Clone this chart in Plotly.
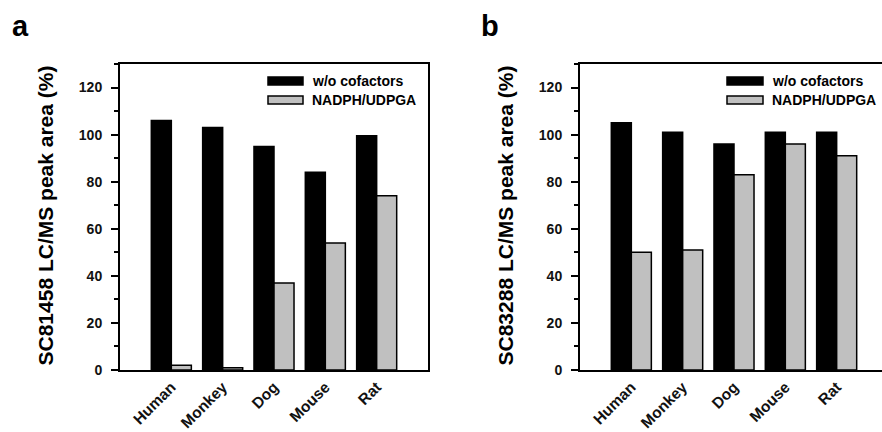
import plotly.graph_objects as go

W, H = 882, 432

species = ["Human", "Monkey", "Dog", "Mouse", "Rat"]
a_wo = [106, 103, 95, 84, 99.5]
a_nadph = [2, 1, 37, 54, 74]
b_wo = [105, 101, 96, 101, 101]
b_nadph = [50, 51, 83, 96, 91]
series_names = ["w/o cofactors", "NADPH/UDPGA"]
ytitles = ["SC81458 LC/MS peak area (%)", "SC83288 LC/MS peak area (%)"]
panel_labels = ["a", "b"]
yticks = [0, 20, 40, 60, 80, 100, 120]

BLACK = "#000000"
GRAY = "#c0c0c0"
FONT = "Liberation Sans"


def px(x):
    return x / W


def py(y):
    return 1 - y / H


fig = go.Figure()

for i, (wo, nad) in enumerate([(a_wo, a_nadph), (b_wo, b_nadph)]):
    xa = "x" if i == 0 else "x2"
    ya = "y" if i == 0 else "y2"
    fig.add_trace(go.Bar(x=species, y=wo, name=series_names[0], xaxis=xa, yaxis=ya,
                         marker=dict(color=BLACK, line=dict(color=BLACK, width=1.5)),
                         showlegend=False))
    fig.add_trace(go.Bar(x=species, y=nad, name=series_names[1], xaxis=xa, yaxis=ya,
                         marker=dict(color=GRAY, line=dict(color=BLACK, width=1.5)),
                         showlegend=False))

ytickfont = dict(family=FONT, size=14, color="#111111", weight="bold")
xtickfont = dict(family=FONT, size=15.5, color="#111111", weight="bold")

xcommon = dict(type="category", showline=True, linecolor=BLACK, linewidth=2,
               ticks="", showgrid=False, zeroline=False, tickangle=-45,
               tickfont=xtickfont, fixedrange=True, automargin=False)
ycommon = dict(range=[0, 130], tickvals=yticks, showline=True, linecolor=BLACK,
               linewidth=2, ticks="outside", ticklen=7, tickwidth=2, tickcolor=BLACK,
               minor=dict(ticks="outside", ticklen=4, tickwidth=1.5, dtick=10,
                          tick0=0, tickcolor=BLACK, showgrid=False),
               showgrid=False, zeroline=False, tickfont=ytickfont,
               ticklabelstandoff=6, automargin=False, fixedrange=True)

y_dom = [py(370), py(64)]
fig.update_layout(
    width=W, height=H,
    margin=dict(l=0, r=0, t=0, b=0),
    paper_bgcolor="white", plot_bgcolor="white",
    barmode="group", bargap=0.22, bargroupgap=0,
    xaxis=dict(domain=[px(120), px(428)], range=[-1, 5], anchor="y",
               mirror=True, **xcommon),
    yaxis=dict(domain=y_dom, anchor="x", mirror=True, **ycommon),
    xaxis2=dict(domain=[px(580), 1.0], range=[-1, -1 + 6 * (882 - 580) / 308],
                anchor="y2", mirror=True, **xcommon),
    yaxis2=dict(domain=y_dom, anchor="x2", mirror=False, **ycommon),
    showlegend=False,
)

# y-axis titles
for xc, t in zip([45, 505], ytitles):
    fig.add_annotation(text=t, x=px(xc), y=py(215.5), xref="paper", yref="paper",
                       xanchor="center", yanchor="middle", textangle=-90,
                       showarrow=False,
                       font=dict(family=FONT, size=21, color=BLACK, weight="bold"))

# panel labels
for xc, t in zip([20.5, 490], panel_labels):
    fig.add_annotation(text=t, x=px(xc), y=py(26), xref="paper", yref="paper",
                       xanchor="center", yanchor="middle", showarrow=False,
                       font=dict(family=FONT, size=29, color=BLACK, weight="bold"))

# custom legends (wide rectangular swatches)
for x0, x1, tx in [(268, 303, 310), (727, 763, 770)]:
    fig.add_shape(type="rect", xref="paper", yref="paper",
                  x0=px(x0), x1=px(x1), y0=py(85), y1=py(77),
                  fillcolor=BLACK, line=dict(color=BLACK, width=1.5))
    fig.add_shape(type="rect", xref="paper", yref="paper",
                  x0=px(x0), x1=px(x1), y0=py(104), y1=py(96),
                  fillcolor=GRAY, line=dict(color=BLACK, width=1.5))
    for yc, name in zip([81, 99.5], series_names):
        fig.add_annotation(text=name, x=px(tx), y=py(yc), xref="paper", yref="paper",
                           xanchor="left", yanchor="middle", showarrow=False,
                           font=dict(family=FONT, size=14, color=BLACK, weight="bold"))

fig.write_html("out.html")
